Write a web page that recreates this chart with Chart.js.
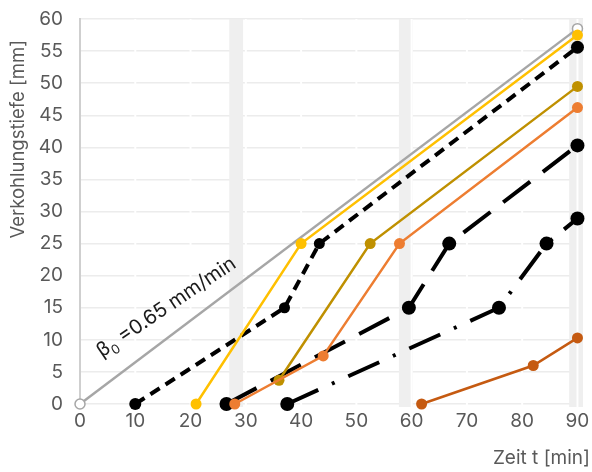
<!DOCTYPE html>
<html>
<head>
<meta charset="utf-8">
<script src="https://cdn.jsdelivr.net/npm/chart.js@4"></script>
<style>
  html, body { margin: 0; padding: 0; background: #fff; }
</style>
</head>
<body>
<canvas id="chart" width="592" height="472"></canvas>
<script>
// axis ticks
const xTickValues = [0, 10, 20, 30, 40, 50, 60, 70, 80, 90];
const yTickValues = [0, 5, 10, 15, 20, 25, 30, 35, 40, 45, 50, 55, 60];

// reference charring rate line (beta0 = 0.65 mm/min)
const refX = [0, 90];
const refY = [0, 58.5];

// measured series (time in min, depth in mm)
const yellowX = [21, 40, 90];
const yellowY = [0, 25, 57.5];
const goldX = [36, 52.5, 90];
const goldY = [3.7, 25, 49.5];
const orangeX = [28, 44, 57.8, 90];
const orangeY = [0, 7.5, 25, 46.2];
const rustX = [61.8, 82, 90];
const rustY = [0, 6, 10.3];
const shortDashX = [10, 37, 43.3, 90];
const shortDashY = [0, 15, 25, 55.6];
const longDashX = [26.5, 59.5, 66.8, 90];
const longDashY = [0, 15, 25, 40.3];
const dashDotX = [37.5, 75.8, 84.4, 90];
const dashDotY = [0, 15, 25, 28.9];

// grey shaded time windows
const bandRanges = [[27, 29.5], [57.7, 60.2], [88.5, 91]];

const yTitle = 'Verkohlungstiefe [mm]';
const xTitle = 'Zeit t [min]';
const rateLabel = ['β', '0', ' =0.65 mm/min'];
const rateLabelAt = [4.0, 7.2];

const FONT = 'Inter, "DejaVu Sans", sans-serif';
const TEXT = '#595959';
const CLEAR = 'rgba(0,0,0,0)';

function pts(xs, ys) {
    return xs.map((x, i) => ({x: x, y: ys[i]}));
}

function solid(label, xs, ys, color) {
    return {
        label: label,
        data: pts(xs, ys),
        borderColor: color,
        backgroundColor: color,
        borderWidth: 2.5,
        pointRadius: 5.5,
        pointBorderWidth: 0,
        pointBackgroundColor: color,
        clip: false
    };
}

function black(label, xs, ys, dash, radius) {
    return {
        label: label,
        data: pts(xs, ys),
        borderColor: '#000',
        backgroundColor: '#000',
        borderWidth: 4,
        borderDash: dash,
        pointRadius: radius,
        pointBorderWidth: 0,
        pointBackgroundColor: '#000',
        clip: false
    };
}

const decor = {
    id: 'decor',
    beforeDatasetsDraw(chart) {
        const {ctx, chartArea: a, scales: {x}} = chart;
        ctx.save();
        ctx.fillStyle = '#efefef';
        bandRanges.forEach(([s, e]) => {
            const l = x.getPixelForValue(s), r = x.getPixelForValue(e);
            ctx.fillRect(l, a.top, r - l, a.bottom - a.top + 3);
        });
        ctx.strokeStyle = '#fff';
        ctx.lineWidth = 2;
        xTickValues.forEach(v => {
            if (v === 0) return;
            const px = x.getPixelForValue(v);
            ctx.beginPath();
            ctx.moveTo(px, a.top);
            ctx.lineTo(px, a.bottom + 3);
            ctx.stroke();
        });
        ctx.restore();
    },
    afterDraw(chart) {
        const {ctx, scales: {x, y}} = chart;
        ctx.save();
        // rotated label next to the reference line, slightly flatter than the line
        ctx.translate(x.getPixelForValue(rateLabelAt[0]), y.getPixelForValue(rateLabelAt[1]));
        ctx.rotate(-34 * Math.PI / 180);
        ctx.fillStyle = '#1a1a1a';
        ctx.textBaseline = 'alphabetic';
        ctx.font = '20px ' + FONT;
        ctx.fillText(rateLabel[0], 0, 0);
        let w = ctx.measureText(rateLabel[0]).width;
        ctx.font = '13px ' + FONT;
        ctx.fillText(rateLabel[1], w, 5);
        w += ctx.measureText(rateLabel[1]).width;
        ctx.font = '20px ' + FONT;
        ctx.fillText(rateLabel[2], w, 0);
        ctx.restore();

        // axis titles
        ctx.save();
        ctx.fillStyle = TEXT;
        ctx.font = '18.5px ' + FONT;
        ctx.translate(18, 40);
        ctx.rotate(-Math.PI / 2);
        ctx.textAlign = 'right';
        ctx.textBaseline = 'middle';
        ctx.fillText(yTitle, 0, 0);
        ctx.restore();

        ctx.save();
        ctx.fillStyle = TEXT;
        ctx.font = '19px ' + FONT;
        ctx.textAlign = 'right';
        ctx.textBaseline = 'middle';
        ctx.fillText(xTitle, 590, 458);
        ctx.restore();
    }
};

const ctx = document.getElementById('chart');
const chart = new Chart(ctx, {
    type: 'line',
    data: {
        datasets: [
            solid('orange', orangeX, orangeY, '#ED7D31'),
            solid('rust', rustX, rustY, '#C55A11'),
            solid('gold', goldX, goldY, '#BF9000'),
            solid('yellow', yellowX, yellowY, '#FFC000'),
            black('dash-dot', dashDotX, dashDotY, [34, 15, 3, 15], 7),
            black('long dash', longDashX, longDashY, [34, 16], 7),
            black('short dash', shortDashX, shortDashY, [11, 7], [6, 5.5, 5.5, 6.5]),
            {
                label: 'beta0',
                data: pts(refX, refY),
                borderColor: '#A6A6A6',
                borderWidth: 2.5,
                pointRadius: 5,
                pointBorderWidth: 1.5,
                pointBorderColor: '#A6A6A6',
                pointBackgroundColor: '#fff',
                clip: false
            }
        ]
    },
    options: {
        responsive: false,
        animation: false,
        layout: {
            padding: {top: 19, right: 9, bottom: 0, left: 0}
        },
        elements: {
            line: {tension: 0}
        },
        plugins: {
            legend: {display: false},
            tooltip: {enabled: false}
        },
        scales: {
            x: {
                type: 'linear',
                min: 0,
                max: 91,
                afterBuildTicks: s => { s.ticks = xTickValues.map(v => ({value: v})); },
                afterFit: s => { s.height = 68; },
                grid: {display: true, drawOnChartArea: false, drawTicks: true, tickLength: 6, color: CLEAR, tickColor: CLEAR},
                border: {display: false},
                ticks: {
                    color: TEXT,
                    padding: 0,
                    maxRotation: 0,
                    font: {family: FONT, size: 19}
                }
            },
            y: {
                min: 0,
                max: 60,
                afterBuildTicks: s => { s.ticks = yTickValues.map(v => ({value: v})); },
                afterFit: s => { s.width = 80; },
                grid: {color: '#ececec', lineWidth: 1.5, drawTicks: true, tickLength: 17, tickColor: CLEAR},
                border: {display: true, color: '#cfcfcf', width: 2},
                ticks: {
                    color: TEXT,
                    padding: 0,
                    font: {family: FONT, size: 19}
                }
            }
        }
    },
    plugins: [decor]
});
</script>
</body>
</html>
